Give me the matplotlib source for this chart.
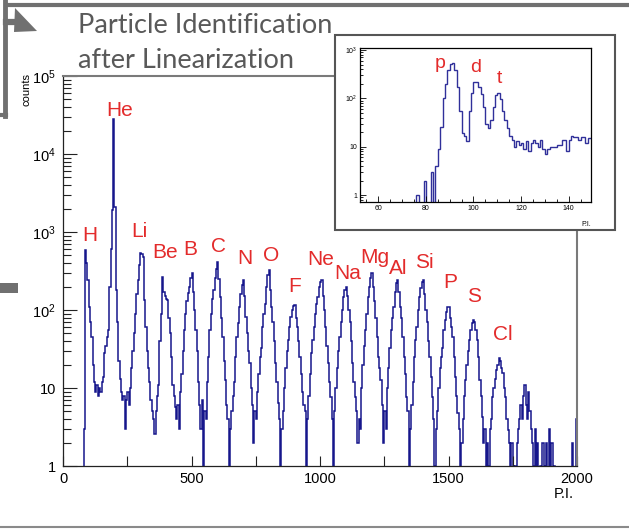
import numpy as np
import matplotlib
matplotlib.use('Agg')
import matplotlib.pyplot as plt
from matplotlib.patches import Rectangle, Polygon
from matplotlib.lines import Line2D
from matplotlib.ticker import LogLocator, MultipleLocator, NullFormatter, FuncFormatter

plt.rcParams['font.family'] = ['Liberation Sans', 'DejaVu Sans']
plt.rcParams['mathtext.default'] = 'regular'

# main spectrum, 5 P.I. wide bins from 0 to 2000 (one row = 100 P.I.)
bin_width = 5
main_counts = [
    0, 0, 0, 0, 0, 0, 0, 0, 0, 0, 0, 0, 0, 0, 0, 0, 3, 590, 400, 240,
    110, 70, 45, 20, 12, 9, 11, 8, 10, 9, 12, 14, 28, 35, 45, 55, 200, 600, 1900, 28000,
    2100, 180, 70, 22, 13, 9, 7, 8, 3, 7, 9, 6, 10, 18, 30, 50, 90, 160, 240, 380,
    540, 530, 480, 135, 60, 30, 18, 12, 7, 5, 4, 2.6, 5, 8, 11, 40, 90, 265, 170, 150,
    140, 135, 80, 50, 25, 11, 8, 5.7, 4, 6, 3, 9, 15, 30, 55, 90, 130, 165, 200, 260,
    297, 170, 100, 55, 30, 12, 6, 3, 7, 1, 5, 4, 12, 25, 55, 90, 140, 180, 260, 340,
    415, 250, 147, 80, 45, 22, 12.6, 6, 4, 1, 3, 5, 8, 12, 25, 45, 68, 110, 160, 210,
    240, 150, 82, 50, 30, 21, 10, 6, 2, 5, 4, 9, 15, 25, 33, 60, 90, 120, 200, 280,
    325, 180, 110, 70, 40, 21, 12, 6.4, 4, 1, 3, 5, 10, 18, 30, 41, 60, 82, 100, 112,
    115, 80, 60, 40, 25, 15, 9, 6, 5, 1, 4, 8, 15, 28, 41, 60, 90, 120, 147, 200,
    230, 240, 150, 100, 60, 35, 21, 12, 7.7, 4, 1, 5, 10, 18, 30, 45, 70, 100, 147, 180,
    195, 150, 100, 70, 40, 21, 12, 7.7, 5, 2, 4, 3, 10, 20, 35, 55, 90, 147, 200, 260,
    297, 200, 130, 80, 45, 25, 18, 12.6, 6, 2, 5, 3, 10, 18, 33, 55, 80, 110, 170, 220,
    240, 170, 110, 80, 45, 25, 15, 7.7, 5, 1, 3, 6, 12, 25, 41, 60, 100, 147, 190, 230,
    240, 160, 100, 70, 40, 25, 14, 7.7, 4, 1, 3, 5, 10, 18, 25, 33, 55, 75, 95, 110,
    110, 80, 60, 45, 25, 14, 8, 4.8, 3, 1, 2, 4, 8, 12.6, 20, 30, 41, 55, 68, 74,
    70, 55, 41, 25, 12.6, 8, 4.3, 2, 3, 1, 2, 1, 3, 4, 7.7, 10, 13, 17, 20, 24,
    22, 18, 15.6, 10, 7.7, 4, 2.9, 2, 1, 2, 1, 0, 1, 2, 3, 4, 6, 4, 8, 11,
    6, 4, 9, 5, 3, 2, 1, 3, 1, 2, 0, 1, 0, 2, 0, 1, 2, 0, 3, 1,
    2, 0, 1, 0, 0, 0, 0, 0, 0, 0, 0, 0, 0, 0, 0, 0, 2, 0, 0, 4,
]
main_edges = np.arange(len(main_counts) + 1) * bin_width

elements = ['H', 'He', 'Li', 'Be', 'B', 'C', 'N', 'O', 'F', 'Ne', 'Na', 'Mg',
            'Al', 'Si', 'P', 'S', 'Cl']
label_pi = [103, 222, 298, 397, 496, 605, 708, 809, 903, 1004, 1109, 1214,
            1303, 1405, 1508, 1601, 1710]
label_counts = [890, 36500, 1000, 554, 590, 660, 464, 507, 203, 450, 297, 478,
                345, 412, 222, 147, 48]

# inset: 1 P.I. bins starting at 52
inset_start = 52
inset_counts = [0] * 24 + [
    1, 0, 0, 2, 0, 0, 3, 0, 4, 9,
    26, 100, 200, 380, 520, 540, 380, 170, 56, 19,
    17, 13, 56, 130, 220, 216, 171, 125, 66, 30,
    24, 35, 66, 115, 130, 98, 56, 35, 24, 17,
    14, 10, 13, 11, 12, 9, 13, 8, 12, 14,
    12, 10, 14, 9, 7, 9, 10, 10, 10, 11,
    11, 14, 14, 8, 14, 17, 16, 16, 14, 16,
    16, 12, 15, 15,
]
inset_edges = inset_start + np.arange(len(inset_counts) + 1)
inset_labels = ['p', 'd', 't']
inset_label_pi = [86, 100.7, 110.8]
inset_label_counts = [525, 434, 257]

W, H = 629, 529
navy = '#16168c'
red = '#e32b2b'
slide_gray = '#707070'

fig = plt.figure(figsize=(W / 100, H / 100), dpi=100)


def fx(x):
    return x / W


def fy(y):
    return 1 - y / H


def log_label(v, pos):
    if v == 1:
        return '1'
    if v == 10:
        return '10'
    return '$10^{%d}$' % round(np.log10(v))


# ---- main histogram
ax = fig.add_axes([fx(63), fy(466), 514 / W, 390 / H])
ax.stairs(main_counts, main_edges, baseline=None, color=navy, lw=1.1)
ax.set_yscale('log')
ax.set_xlim(0, 2000)
ax.set_ylim(1, 1e5)
ax.xaxis.set_major_locator(MultipleLocator(500))
ax.xaxis.set_minor_locator(MultipleLocator(250))
ax.yaxis.set_major_locator(LogLocator(base=10, numticks=10))
ax.yaxis.set_minor_locator(LogLocator(base=10, subs=np.arange(2, 10), numticks=10))
ax.yaxis.set_major_formatter(FuncFormatter(log_label))
ax.yaxis.set_minor_formatter(NullFormatter())
ax.tick_params(which='both', direction='in', top=False, right=False, width=0.8, color='#222222')
ax.tick_params(axis='y', which='major', length=10, labelsize=10.5, pad=5)
ax.tick_params(axis='y', which='minor', length=5.5)
ax.tick_params(axis='x', which='both', length=7, labelsize=10.5, pad=4)
for s in ['left', 'bottom']:
    ax.spines[s].set_linewidth(0.9)
    ax.spines[s].set_color('#222222')
for s in ['top', 'right']:
    ax.spines[s].set_linewidth(1.5)
    ax.spines[s].set_color('#7a7a7a')

for name, xv, yv in zip(elements, label_pi, label_counts):
    ax.text(xv, yv, name, color=red, fontsize=15, ha='center', va='center')

fig.text(fx(574), fy(494), 'P.I.', fontsize=10.5, ha='right', va='center')
fig.text(fx(27), fy(90), 'counts', fontsize=8, rotation=90, ha='center', va='center')

# ---- inset
fig.patches.append(Rectangle((fx(335), fy(230)), 280 / W, 195 / H, transform=fig.transFigure,
                             fc='white', ec='#555555', lw=1.5, zorder=2))
iax = fig.add_axes([fx(360), fy(202), 231 / W, 154 / H], zorder=5)
iax.stairs(inset_counts, inset_edges, baseline=None, color='#30309a', lw=1.0)
iax.set_yscale('log')
iax.set_xlim(52.3, 149.4)
iax.set_ylim(0.72, 1100)
iax.xaxis.set_major_locator(MultipleLocator(20))
iax.xaxis.set_minor_locator(MultipleLocator(5))
iax.yaxis.set_major_locator(LogLocator(base=10, numticks=10))
iax.yaxis.set_minor_locator(LogLocator(base=10, subs=np.arange(2, 10), numticks=10))
iax.yaxis.set_major_formatter(FuncFormatter(log_label))
iax.yaxis.set_minor_formatter(NullFormatter())
iax.tick_params(which='both', direction='in', top=False, right=False, width=0.6)
iax.tick_params(which='major', length=4, labelsize=5, pad=2)
iax.tick_params(which='minor', length=2)
for s in iax.spines.values():
    s.set_linewidth(0.9)
for name, xv, yv in zip(inset_labels, inset_label_pi, inset_label_counts):
    iax.text(xv, yv, name, color=red, fontsize=14, ha='center', va='center')
fig.text(fx(591), fy(224), 'P.I.', fontsize=5, ha='right', va='center', zorder=6)

# ---- slide decorations
fig.text(fx(78), fy(33), 'Particle Identification', fontsize=19.5, color='#595959',
         family=['Lato', 'DejaVu Sans'], ha='left', va='baseline')
fig.text(fx(78), fy(68), 'after Linearization', fontsize=19.5, color='#595959',
         family=['Lato', 'DejaVu Sans'], ha='left', va='baseline')
fig.lines.append(Line2D([fx(7), fx(629)], [fy(5), fy(5)], transform=fig.transFigure,
                        color=slide_gray, lw=3))
fig.lines.append(Line2D([fx(4.5), fx(4.5)], [fy(0), fy(116)], transform=fig.transFigure,
                        color=slide_gray, lw=3.5))
fig.lines.append(Line2D([fx(0), fx(6)], [fy(114.5), fy(114.5)], transform=fig.transFigure,
                        color=slide_gray, lw=3))
fig.lines.append(Line2D([fx(6), fx(18)], [fy(22), fy(22)], transform=fig.transFigure,
                        color=slide_gray, lw=4.5))
fig.patches.append(Polygon([(fx(15), fy(8)), (fx(37), fy(31)), (fx(14), fy(32))],
                           closed=True, transform=fig.transFigure, fc=slide_gray, ec='none'))
fig.patches.append(Rectangle((fx(0), fy(293)), 18 / W, 10 / H, transform=fig.transFigure,
                             fc=slide_gray, ec='none'))
fig.lines.append(Line2D([0, 1], [fy(527), fy(527)], transform=fig.transFigure,
                        color='#8a8a8a', lw=1.5))

fig.savefig('out.png', dpi=100)
